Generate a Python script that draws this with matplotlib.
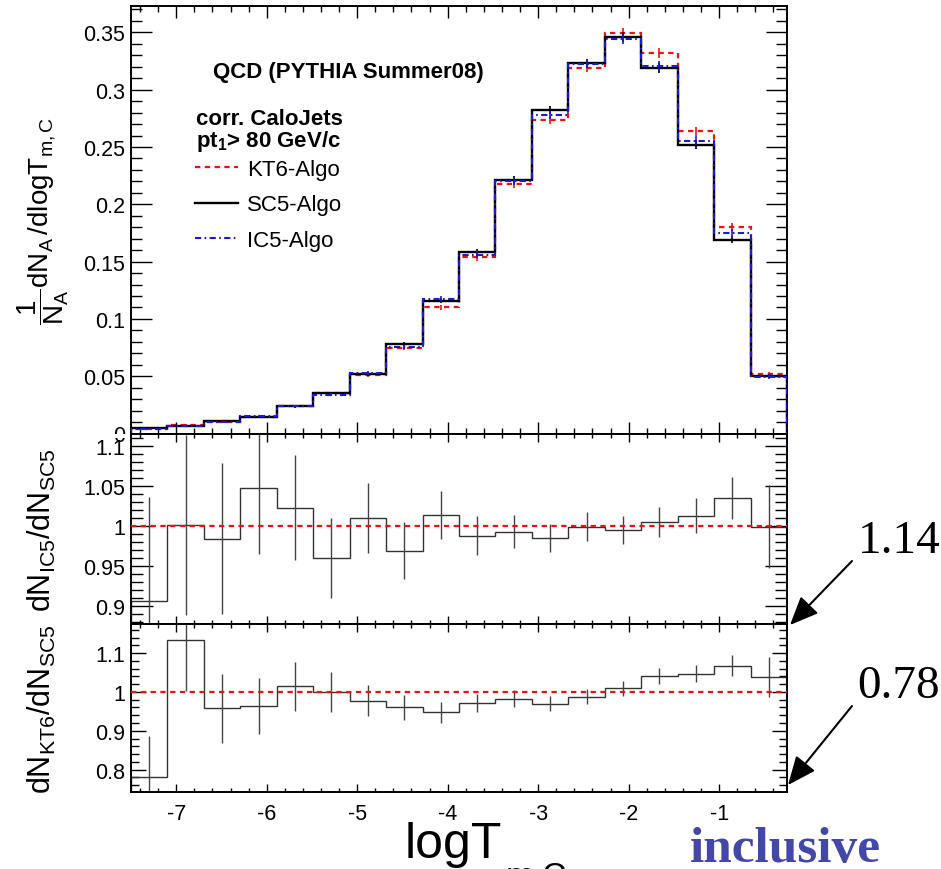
import numpy as np
import matplotlib
matplotlib.use('Agg')
import matplotlib.pyplot as plt
from matplotlib.ticker import MultipleLocator, FuncFormatter
from matplotlib.lines import Line2D
from matplotlib.patches import Rectangle

plt.rcParams['font.family'] = ['Liberation Sans', 'DejaVu Sans']
plt.rcParams['mathtext.fontset'] = 'custom'
plt.rcParams['mathtext.rm'] = 'Liberation Sans'
plt.rcParams['mathtext.it'] = 'Liberation Sans'
plt.rcParams['mathtext.bf'] = 'Liberation Sans:bold'
plt.rcParams['mathtext.default'] = 'regular'
plt.rcParams['axes.unicode_minus'] = False

# ---------------- data ----------------
bin_edges = [-7.5, -7.097, -6.694, -6.292, -5.889, -5.486, -5.083, -4.681, -4.278,
             -3.875, -3.472, -3.069, -2.667, -2.264, -1.861, -1.458, -1.056, -0.653, -0.25]

sc5 = [0.0047, 0.0067, 0.0105, 0.0148, 0.0236, 0.0353, 0.0520, 0.0780, 0.1160,
       0.1580, 0.2215, 0.2820, 0.3230, 0.3460, 0.3190, 0.2520, 0.1690, 0.0498]
kt6 = [0.0037, 0.0076, 0.0101, 0.0143, 0.0239, 0.0353, 0.0508, 0.0749, 0.1100,
       0.1537, 0.2177, 0.2735, 0.3191, 0.3493, 0.3321, 0.2638, 0.1803, 0.0517]
ic5 = [0.0043, 0.0067, 0.0103, 0.0155, 0.0241, 0.0339, 0.0525, 0.0756, 0.1176,
       0.1561, 0.2199, 0.2778, 0.3227, 0.3443, 0.3206, 0.2553, 0.1749, 0.0497]
top_err = [0.0004, 0.0005, 0.0007, 0.0008, 0.0011, 0.0013, 0.0016, 0.0020, 0.0025,
           0.0028, 0.0033, 0.0036, 0.0041, 0.0045, 0.0043, 0.0039, 0.0032, 0.0018]

ratio_ic5 = [0.906, 1.001, 0.984, 1.047, 1.023, 0.960, 1.010, 0.969, 1.014,
             0.988, 0.993, 0.985, 0.999, 0.995, 1.005, 1.013, 1.035, 0.999]
ratio_ic5_err = [0.130, 0.113, 0.095, 0.082, 0.066, 0.050, 0.044, 0.036, 0.030,
                 0.025, 0.021, 0.018, 0.018, 0.018, 0.019, 0.022, 0.026, 0.052]
ratio_kt6 = [0.782, 1.133, 0.958, 0.964, 1.014, 1.000, 0.977, 0.960, 0.948,
             0.9725, 0.983, 0.970, 0.988, 1.0095, 1.041, 1.047, 1.067, 1.039]
ratio_kt6_err = [0.105, 0.130, 0.089, 0.072, 0.063, 0.051, 0.040, 0.032, 0.027,
                 0.023, 0.021, 0.019, 0.019, 0.019, 0.020, 0.022, 0.027, 0.052]

series_labels = ['KT6-Algo', 'SC5-Algo', 'IC5-Algo']
x_ticks = [-7, -6, -5, -4, -3, -2, -1]

edges = np.array(bin_edges)
centers = 0.5 * (edges[:-1] + edges[1:])

RED = '#ee1111'
BLUE = '#1a1ad0'
KT6_LS = (0, (2.4, 2.0))
IC5_LS = (0, (3.0, 1.6, 0.8, 1.6))

W, H = 941, 870
fig = plt.figure(figsize=(W / 100, H / 100), dpi=100)


def fig_axes(x0, y0, x1, y1):
    return fig.add_axes([x0 / W, 1 - y1 / H, (x1 - x0) / W, (y1 - y0) / H])


ax1 = fig_axes(131, 7, 787, 434.5)
ax2 = fig_axes(131, 434.5, 787, 625)
ax3 = fig_axes(131, 625, 787, 792.7)

fmt = FuncFormatter(lambda v, p: '%g' % round(v, 6))


def style(ax, xmaj, ymaj, ystep, yminor):
    ax.set_xlim(bin_edges[0], bin_edges[-1])
    ax.set_xticks(x_ticks)
    ax.xaxis.set_minor_locator(MultipleLocator(0.2))
    ax.yaxis.set_major_locator(MultipleLocator(ystep))
    ax.yaxis.set_minor_locator(MultipleLocator(yminor))
    ax.yaxis.set_major_formatter(fmt)
    ax.xaxis.set_major_formatter(fmt)
    ax.tick_params(which='both', direction='in', top=True, right=True,
                   labelsize=15.5, width=1.0, color='black')
    ax.tick_params(axis='x', which='major', length=xmaj, pad=8)
    ax.tick_params(axis='x', which='minor', length=xmaj * 0.5)
    ax.tick_params(axis='y', which='major', length=ymaj, pad=4)
    ax.tick_params(axis='y', which='minor', length=ymaj * 0.52)
    for s in ax.spines.values():
        s.set_linewidth(1.4)


# ---------------- top panel ----------------
ax1.stairs(kt6, edges, color=RED, lw=1.6, ls=KT6_LS, zorder=2)
ax1.errorbar(centers, kt6, yerr=top_err, fmt='none', ecolor=RED, elinewidth=1.2, zorder=2)
ax1.stairs(sc5, edges, color='black', lw=1.7, zorder=3)
ax1.errorbar(centers, sc5, yerr=top_err, fmt='none', ecolor='black', elinewidth=1.2, zorder=3)
ax1.stairs(ic5, edges, color=BLUE, lw=1.5, ls=IC5_LS, zorder=4)
ax1.errorbar(centers, ic5, yerr=top_err, fmt='none', ecolor=BLUE, elinewidth=1.2, zorder=4)
ax1.set_ylim(0, 0.373)
style(ax1, 8.6, 15, 0.05, 0.01)
ax1.tick_params(labelbottom=False)
ax1.set_ylabel(r'$\dfrac{1}{N_{A}}dN_{A}\,/dlogT_{m,C}$', fontsize=20, va='center')
ax1.yaxis.set_label_coords((43 - 131) / 656, 0.5)

ax1.text(0.125, 0.833, 'QCD (PYTHIA Summer08)', fontsize=16, fontweight='bold',
         transform=ax1.transAxes, va='baseline')
ax1.text(0.099, 0.724, 'corr. CaloJets', fontsize=16, fontweight='bold',
         transform=ax1.transAxes, va='baseline')
ax1.text(0.099, 0.673, r'pt$_{\mathbf{1}}$> 80 GeV/c', fontsize=16, fontweight='bold',
         transform=ax1.transAxes, va='baseline')

handles = [Line2D([], [], color=RED, lw=1.6, ls=KT6_LS),
           Line2D([], [], color='black', lw=1.7),
           Line2D([], [], color=BLUE, lw=1.5, ls=IC5_LS)]
ax1.legend(handles, series_labels, loc='upper left', bbox_to_anchor=(0.0976, 0.642),
           frameon=False, fontsize=16, handlelength=1.93, handletextpad=0.4,
           labelspacing=0.65, borderpad=0, borderaxespad=0)

# ---------------- middle panel ----------------
ax2.stairs(ratio_ic5, edges, color='#333333', lw=1.0, zorder=2)
ax2.errorbar(centers, ratio_ic5, yerr=ratio_ic5_err, fmt='none', ecolor='#444444',
             elinewidth=1.0, zorder=2)
ax2.axhline(1.0, color=RED, lw=1.6, ls=(0, (2.4, 2.0)), zorder=3)
ax2.set_ylim(0.877, 1.116)
style(ax2, 5.8, 16, 0.05, 0.01)
ax2.tick_params(labelbottom=False)
ax2.set_ylabel(r'$dN_{IC5}/dN_{SC5}$', fontsize=22, va='center')
ax2.yaxis.set_label_coords((42 - 131) / 656, 0.5)

# ---------------- bottom panel ----------------
ax3.stairs(ratio_kt6, edges, color='#333333', lw=1.0, zorder=2)
ax3.errorbar(centers, ratio_kt6, yerr=ratio_kt6_err, fmt='none', ecolor='#444444',
             elinewidth=1.0, zorder=2)
ax3.axhline(1.0, color=RED, lw=1.6, ls=(0, (2.4, 2.0)), zorder=3)
ax3.set_ylim(0.743, 1.175)
style(ax3, 5.8, 11, 0.1, 0.02)
ax3.set_ylabel(r'$dN_{KT6}/dN_{SC5}$', fontsize=22, va='center')
ax3.yaxis.set_label_coords((42 - 131) / 656, 0.5)

# hide the lower part of the top panel's "0" label (clipped by lower pad)
fig.add_artist(Rectangle((60 / W, 1 - 438.5 / H), 68 / W, 4 / H,
                         transform=fig.transFigure, facecolor='white',
                         edgecolor='none', zorder=1))

# x title: "logT" with a deep subscript "m,C" cut by the lower edge
xt = fig.text(405 / W, 1 - 858 / H, 'logT', fontsize=36, ha='left', va='baseline')
fig.canvas.draw()
bb = xt.get_window_extent()
fig.text((bb.x1 + 3) / W, 1 - 886 / H, 'm,C', fontsize=24, ha='left', va='baseline')

# annotations
fig.text(858 / W, 1 - 553 / H, '1.14', family='Liberation Serif', fontsize=34,
         ha='left', va='baseline')
fig.text(857 / W, 1 - 698 / H, '0.78', family='Liberation Serif', fontsize=34,
         ha='left', va='baseline')
arrow_kw = dict(arrowstyle='-|>,head_length=0.7,head_width=0.3', color='black',
                lw=1.5, mutation_scale=25, shrinkA=0, shrinkB=0)
ax3.annotate('', xy=(790, H - 626), xycoords='figure pixels',
             xytext=(852, H - 562), textcoords='figure pixels',
             arrowprops=arrow_kw, annotation_clip=False)
ax3.annotate('', xy=(788, H - 786), xycoords='figure pixels',
             xytext=(852, H - 707), textcoords='figure pixels',
             arrowprops=arrow_kw, annotation_clip=False)

fig.text(690 / W, 1 - 862 / H, 'inclusive', family='Liberation Serif', fontweight='bold',
         fontsize=37, color='#4347a7', ha='left', va='baseline')

fig.savefig('out.png', dpi=100)
